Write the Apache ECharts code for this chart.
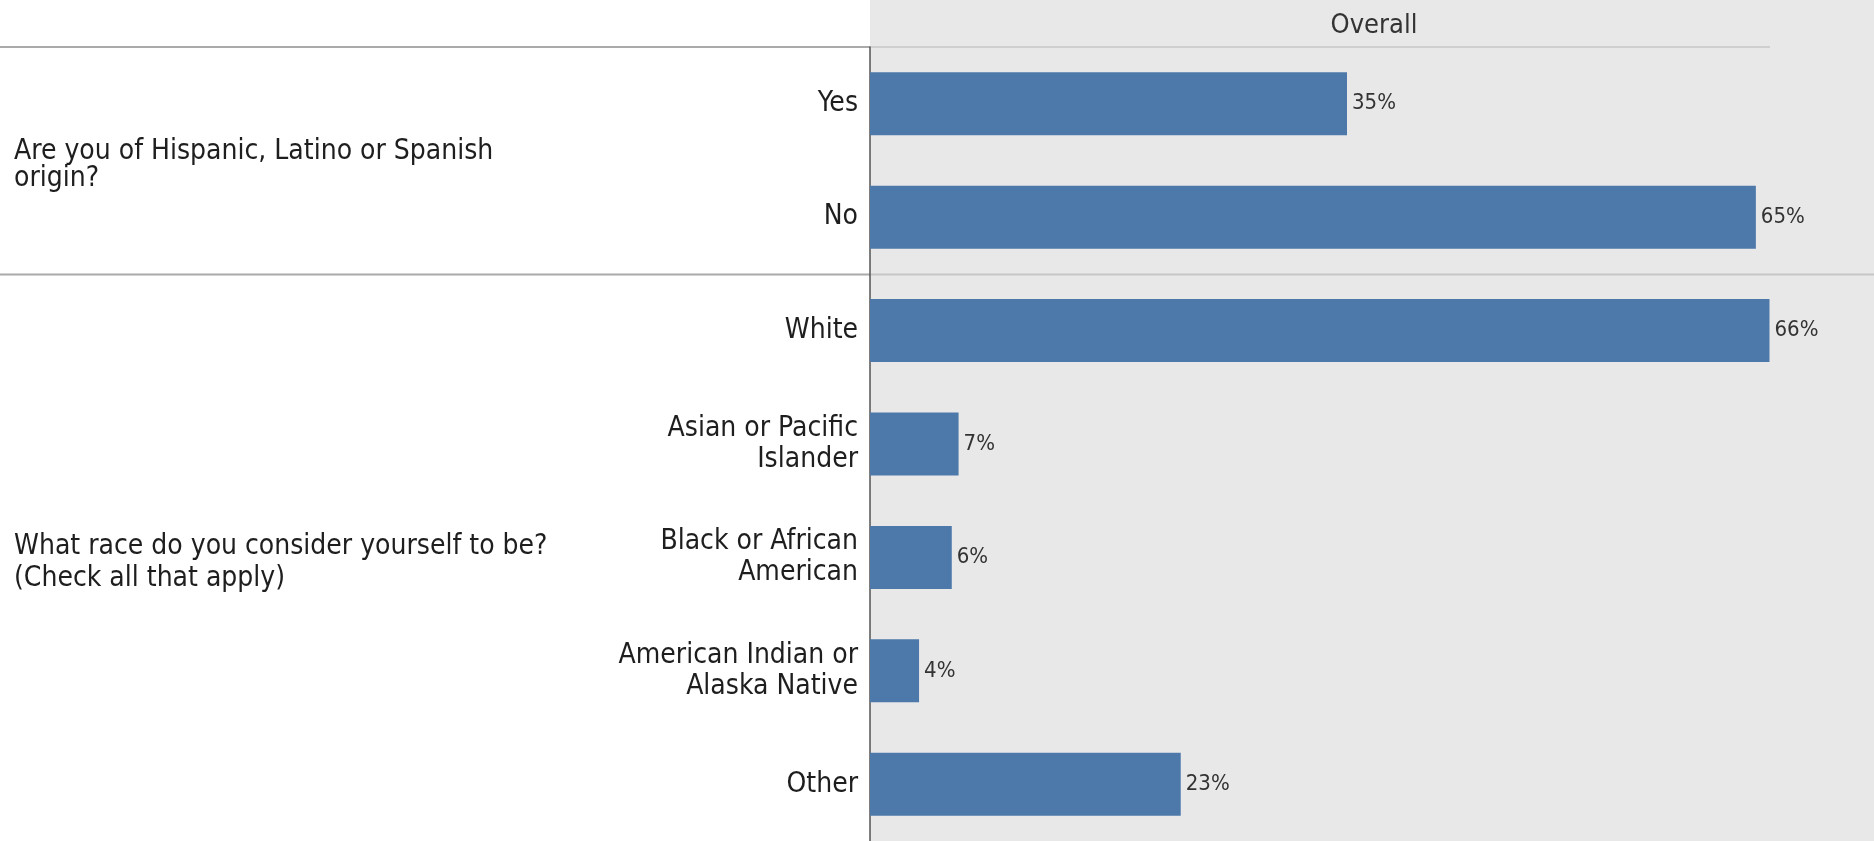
<!DOCTYPE html>
<html>
<head>
<meta charset="utf-8">
<script src="https://cdn.jsdelivr.net/npm/echarts@6/dist/echarts.min.js"></script>
<style>
html,body{margin:0;padding:0;background:#fff;}
#c{width:1874px;height:841px;}
</style>
</head>
<body>
<div id="c"></div>
<script>
const categories = ['Yes', 'No', 'White', 'Asian or Pacific\nIslander', 'Black or African\nAmerican', 'American Indian or\nAlaska Native', 'Other'];
const values = [35.0, 65.0, 66.0, 6.5, 6.0, 3.6, 22.8];
const valueLabels = ['35%', '65%', '66%', '7%', '6%', '4%', '23%'];
const questions = ['Are you of Hispanic, Latino or Spanish\norigin?', 'What race do you consider yourself to be?\n(Check all that apply)'];
const headerText = 'Overall';

const FONT = 'DejaVu Sans Condensed';
const W = 1874, H = 841;
const gridLeft = 870, gridTop = 47, gridHeight = 796;
const rowH = gridHeight / categories.length;

const chart = echarts.init(document.getElementById('c'), null, {renderer: 'canvas'});

const option = {
  backgroundColor: '#ffffff',
  animation: false,
  grid: {left: gridLeft, top: gridTop, height: gridHeight, right: 50, containLabel: false},
  xAxis: {type: 'value', min: 0, max: 70, show: false},
  yAxis: {
    type: 'category', data: categories, inverse: true,
    axisLine: {show: true, lineStyle: {color: '#555555', width: 1.5}},
    axisTick: {show: false},
    axisLabel: {
      margin: 12, color: '#1e1e1e', fontFamily: FONT, fontSize: 28, lineHeight: 31, align: 'right',
      padding: [6, 0, 0, 0]
    },
    splitLine: {show: false}
  },
  series: [{
    type: 'bar',
    data: values,
    barWidth: 63,
    itemStyle: {color: '#4c78aa'},
    label: {
      show: true, position: 'right', distance: 5,
      color: '#333333', fontFamily: FONT, fontSize: 22,
      formatter: p => valueLabels[p.dataIndex]
    },
    z: 5
  }],
  graphic: [
    {type: 'rect', z: -10, shape: {x: gridLeft, y: 0, width: W - gridLeft, height: H}, style: {fill: '#e8e8e8'}},
    {type: 'line', z: -5, shape: {x1: 0, y1: gridTop, x2: gridLeft, y2: gridTop}, style: {stroke: '#aaaaaa', lineWidth: 2}},
    {type: 'line', z: -5, shape: {x1: gridLeft, y1: gridTop, x2: 1770, y2: gridTop}, style: {stroke: '#cfcfcf', lineWidth: 2}},
    {type: 'line', z: -5, shape: {x1: 0, y1: gridTop + 2 * rowH, x2: gridLeft, y2: gridTop + 2 * rowH}, style: {stroke: '#aaaaaa', lineWidth: 2}},
    {type: 'line', z: -5, shape: {x1: gridLeft, y1: gridTop + 2 * rowH, x2: W, y2: gridTop + 2 * rowH}, style: {stroke: '#c6c6c6', lineWidth: 2}},
    {type: 'text', z: 10, x: 1374, y: 26, style: {text: headerText, fill: '#333333', font: '27px "' + FONT + '"', align: 'center', verticalAlign: 'middle'}},
    {type: 'text', z: 10, x: 14, y: gridTop + rowH + 5, style: {text: questions[0], fill: '#1e1e1e', font: '28px "' + FONT + '"', lineHeight: 27, align: 'left', verticalAlign: 'middle'}},
    {type: 'text', z: 10, x: 14, y: gridTop + 4.5 * rowH + 4, style: {text: questions[1], fill: '#1e1e1e', font: '28px "' + FONT + '"', lineHeight: 32, align: 'left', verticalAlign: 'middle'}}
  ]
};
chart.setOption(option);
</script>
</body>
</html>
